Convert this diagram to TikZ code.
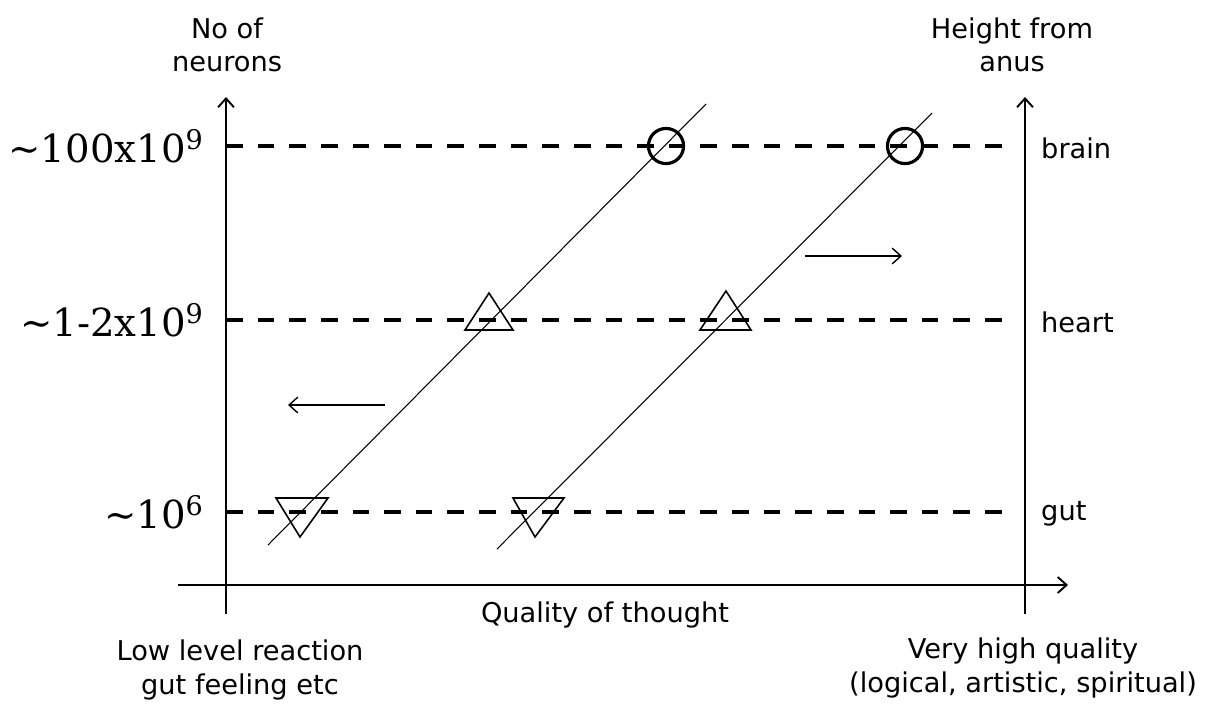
\documentclass[tikz,border=0pt]{standalone}
\usepackage{fontspec}
\setmainfont{DejaVu Sans}
\newfontfamily\numfont{DejaVu Serif}
\usepackage{tikz}
\usetikzlibrary{arrows.meta}

\begin{document}
\begin{tikzpicture}[x=0.02cm, y=-0.02cm,
  axis/.style={line width=1.1pt, -{Straight Barb[length=5pt,width=9pt]}},
  level/.style={line width=2.3pt, dash pattern=on 9.5pt off 8.5pt},
  trend/.style={line width=0.6pt},
  sign/.style={line width=0.9pt, line join=miter},
  push/.style={line width=0.8pt, -{Straight Barb[length=5pt,width=9pt]}},
  lbl/.style={font=\fontsize{15.5}{19}\selectfont, align=center},
  num/.style={font=\numfont\fontsize{22}{26}\selectfont, anchor=east}]

\useasboundingbox (0,0) rectangle (1206,704);

\foreach \y/\name in {146/brain, 320/heart, 512/gut} {
  \draw[level] (226,\y) -- (1005,\y);
  \node[lbl, anchor=west] (\name) at (1035,\y+2) {\name};
}

\draw[axis] (226,614) -- (226,97);
\draw[axis] (1025,614) -- (1025,97);
\draw[axis] (178,585) -- (1068,585);

\node[num] (big) at (210,146) {\textasciitilde100x10\textsuperscript{9}};
\node[num] (mid) at (210,320) {\textasciitilde1-2x10\textsuperscript{9}};
\node[num] (small) at (210,512) {\textasciitilde10\textsuperscript{6}};

\draw[trend] (268,545) -- (706,104);
\draw[trend] (497,549) -- (932,113);

\draw[line width=1.8pt] (666,146) circle (10pt);
\draw[line width=1.8pt] (905,146) circle (10pt);

\draw[sign] (465,330) -- (489,293) -- (513,330) -- cycle;
\draw[sign] (700,330) -- (726,291) -- (751,330) -- cycle;
\draw[sign] (276,498) -- (328,498) -- (300,537) -- cycle;
\draw[sign] (513,498) -- (564,498) -- (535,537) -- cycle;

\draw[push] (385,405) -- (288,405);
\draw[push] (805,256) -- (902,256); % shift to the right

\node[lbl] (neurons) at (227,45) {No of\\neurons};
\node[lbl] (height) at (1012,45) {Height from\\anus};
\node[lbl] (quality) at (605,615) {Quality of thought};
\node[lbl] (low) at (240,670) {Low level reaction\\gut feeling etc};
\node[lbl] (high) at (1023,668) {Very high quality\\(logical, artistic, spiritual)};

\end{tikzpicture}
\end{document}
